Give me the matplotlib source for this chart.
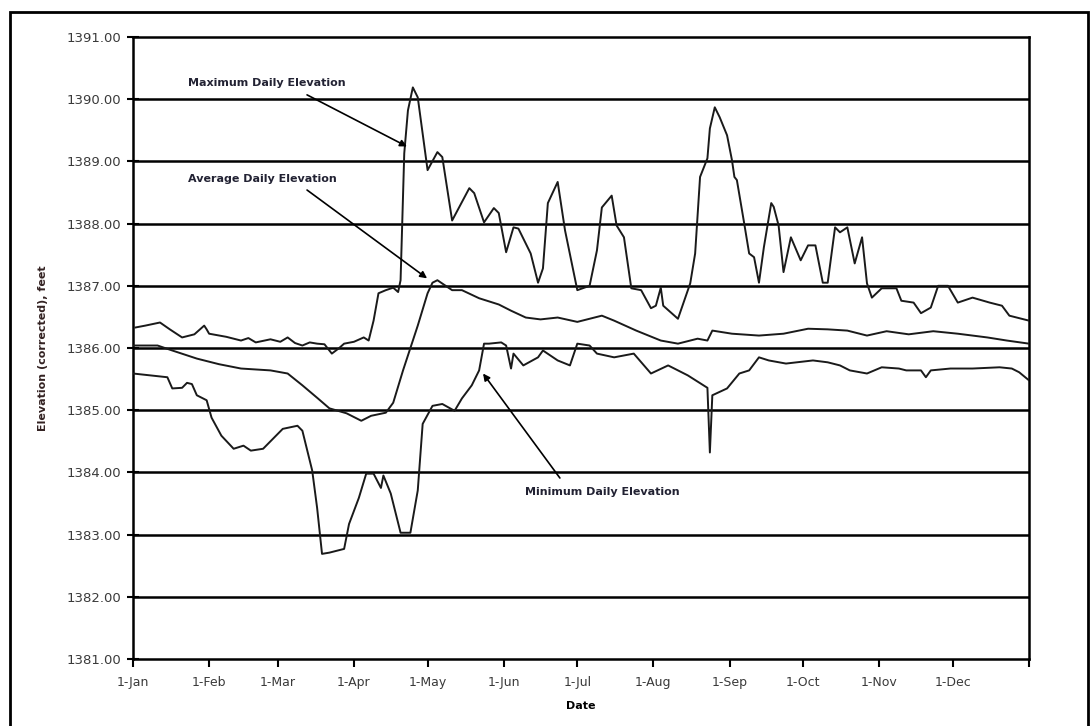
import matplotlib.pyplot as plt
from matplotlib.patches import Rectangle

# day of year (0 = 1-Jan) and elevation, feet
max_day = [1, 5, 11, 15, 20, 25, 29, 30, 31, 38, 44, 47, 50, 56, 60, 63, 66, 69, 72, 75,
           78, 81, 84, 86, 90, 94, 96, 98, 100, 103, 106, 108,
           109, 110.5, 112, 114, 116, 120, 124, 126, 130, 137, 139, 143, 147, 149, 152,
           155, 157, 162, 165, 167, 169, 173, 176, 181, 186, 189, 191, 195, 197, 200,
           203, 207, 211, 213, 215, 216, 222, 227, 229, 231, 234, 235, 237, 239, 242,
           244, 245, 246, 249, 251, 253, 255, 257, 260, 261, 263, 265, 268, 272, 275,
           278, 281, 283, 286, 288, 291, 294, 297, 299, 301, 305, 311, 313, 318, 321,
           325, 328, 332, 336, 342, 349, 354, 357, 362, 365]
max_elev = [1386.33, 1386.36, 1386.41, 1386.30, 1386.17, 1386.22, 1386.36, 1386.30,
            1386.23, 1386.18, 1386.12, 1386.16, 1386.09, 1386.14, 1386.10, 1386.17,
            1386.08, 1386.04, 1386.09, 1386.07, 1386.06, 1385.91, 1386.00, 1386.07,
            1386.10, 1386.17, 1386.12, 1386.44, 1386.88, 1386.93,
            1386.97, 1386.90, 1387.09, 1389.13, 1389.82, 1390.19, 1390.03, 1388.86,
            1389.15, 1389.07, 1388.05, 1388.57, 1388.49, 1388.02, 1388.25, 1388.17,
            1387.54, 1387.94, 1387.92, 1387.52, 1387.05, 1387.28, 1388.33, 1388.67,
            1387.89, 1386.93, 1387.00, 1387.57, 1388.26, 1388.45, 1387.97, 1387.78,
            1386.96, 1386.93, 1386.64, 1386.68, 1386.97, 1386.68, 1386.47, 1387.04,
            1387.52, 1388.75, 1389.05, 1389.53, 1389.87, 1389.71, 1389.42, 1389.02,
            1388.75, 1388.70, 1388.00, 1387.52, 1387.46, 1387.05, 1387.62, 1388.33,
            1388.27, 1387.97, 1387.22, 1387.78, 1387.41, 1387.65, 1387.65, 1387.05,
            1387.05, 1387.94, 1387.86, 1387.94, 1387.36, 1387.78, 1387.04, 1386.81,
            1386.96, 1386.96, 1386.76, 1386.73, 1386.56, 1386.65, 1387.00, 1387.00,
            1386.73, 1386.81, 1386.73, 1386.68, 1386.52, 1386.47, 1386.44]

avg_day = [0, 10, 16, 26, 35, 44, 56, 63, 69, 75, 80, 87, 93, 97, 103, 106, 110, 116, 120,
           122, 124, 130, 134, 141, 149, 154, 160, 166, 173, 181, 191, 196, 205, 215,
           222, 230, 234, 236, 244, 255, 265, 275, 283, 291, 299, 307, 316, 326, 336,
           348, 356, 365]
avg_elev = [1386.04, 1386.04, 1385.96, 1385.83, 1385.74, 1385.67, 1385.64, 1385.59,
            1385.40, 1385.20, 1385.03, 1384.95, 1384.83, 1384.91, 1384.96, 1385.12,
            1385.64, 1386.36, 1386.88, 1387.05, 1387.09, 1386.93, 1386.93, 1386.80,
            1386.70, 1386.60, 1386.49, 1386.46, 1386.49, 1386.42, 1386.52, 1386.44,
            1386.28, 1386.12, 1386.07, 1386.15, 1386.12, 1386.28, 1386.23, 1386.20,
            1386.23, 1386.31, 1386.30, 1386.28, 1386.20, 1386.27, 1386.22, 1386.27,
            1386.23, 1386.17, 1386.12, 1386.07]

min_day = [0, 7, 14, 16, 20, 22, 24, 26, 30, 32, 36, 41, 45, 48, 53, 57, 61, 67, 69,
           71, 73, 75, 77, 80, 86, 88, 92, 95, 98, 101, 102, 105, 109, 113, 116, 118,
           122, 126, 131, 134, 138, 141, 143, 145, 150, 152, 154, 155, 159, 165, 167,
           173, 178, 181, 186, 189, 196, 204, 211, 218, 226, 234, 235, 236, 242, 247,
           251, 255, 259, 266, 277, 283, 288, 292, 299, 305, 312, 315, 321, 323, 325,
           333, 342, 353, 358, 361, 365]
min_elev = [1385.59, 1385.56, 1385.53, 1385.35, 1385.36, 1385.44, 1385.42, 1385.24,
            1385.16, 1384.88, 1384.59, 1384.38, 1384.43, 1384.35, 1384.38, 1384.54,
            1384.70, 1384.75, 1384.67, 1384.35, 1384.03, 1383.43, 1382.69, 1382.71,
            1382.77, 1383.17, 1383.59, 1383.98, 1383.98, 1383.75, 1383.95, 1383.66,
            1383.03, 1383.03, 1383.71, 1384.78, 1385.07, 1385.10, 1384.99, 1385.19,
            1385.40, 1385.64, 1386.07, 1386.07, 1386.09, 1386.04, 1385.67, 1385.91,
            1385.72, 1385.85, 1385.96, 1385.80, 1385.72, 1386.07, 1386.04, 1385.91,
            1385.85, 1385.91, 1385.59, 1385.72, 1385.56, 1385.36, 1384.32, 1385.24,
            1385.35, 1385.59, 1385.64, 1385.85, 1385.80, 1385.75, 1385.80, 1385.77,
            1385.72, 1385.64, 1385.59, 1385.69, 1385.67, 1385.64, 1385.64, 1385.53,
            1385.64, 1385.67, 1385.67, 1385.69, 1385.67, 1385.61, 1385.48]

month_days = [0, 31, 59, 90, 120, 151, 181, 212, 243, 273, 304, 334, 365]
month_labels = ['1-Jan', '1-Feb', '1-Mar', '1-Apr', '1-May', '1-Jun', '1-Jul',
                '1-Aug', '1-Sep', '1-Oct', '1-Nov', '1-Dec', '']

plt.rcParams['font.family'] = ['DejaVu Sans']

fig = plt.figure(figsize=(10.92, 7.26), dpi=100)
ax = fig.add_axes([0.1218, 0.0923, 0.8205, 0.8567])

# outer frame round the whole chart (bottom edge falls off the page)
fig.patches.append(Rectangle((10 / 1092, -0.05), 1078 / 1092, 1 - 12 / 726 + 0.05,
                             transform=fig.transFigure, fill=False,
                             edgecolor='black', linewidth=2))

for v in range(1382, 1391):
    ax.axhline(v, color='black', linewidth=1.8, zorder=1)

line_color = '#1a1a1a'
ax.plot(max_day, max_elev, color=line_color, linewidth=1.4, zorder=3)
ax.plot(avg_day, avg_elev, color=line_color, linewidth=1.4, zorder=3)
ax.plot(min_day, min_elev, color=line_color, linewidth=1.4, zorder=3)

ax.set_xlim(0, 365)
ax.set_ylim(1381, 1391)
ax.set_xticks(month_days)
ax.set_xticklabels(month_labels)
ax.set_yticks(range(1381, 1392))
ax.set_yticklabels(['%.2f' % v for v in range(1381, 1392)])

for s in ax.spines.values():
    s.set_linewidth(1.8)
    s.set_color('black')

ax.tick_params(axis='y', direction='inout', length=9, width=1.5, labelsize=9.5,
               labelcolor='#3a3a3a', pad=4)
ax.tick_params(axis='x', direction='out', length=6, width=1.5, labelsize=9,
               labelcolor='#3a3a3a', pad=6)

ax.set_xlabel('Date', fontsize=8, fontweight='bold', labelpad=9)
ax.set_ylabel('Elevation (corrected), feet', fontsize=8, fontweight='bold',
              color='#332222', labelpad=13)

arrow = dict(arrowstyle='-|>', color='black', lw=1.2, mutation_scale=10,
             shrinkA=0, shrinkB=0)
ax.annotate('', xy=(111.6, 1389.24), xytext=(70.9, 1390.07), arrowprops=arrow)
ax.text(22.4, 1390.26, 'Maximum Daily Elevation', fontsize=8, fontweight='bold',
        color='#222233', va='center', ha='left')
ax.annotate('', xy=(119.8, 1387.12), xytext=(70.9, 1388.54), arrowprops=arrow)
ax.text(22.4, 1388.71, 'Average Daily Elevation', fontsize=8, fontweight='bold',
        color='#222233', va='center', ha='left')
ax.annotate('', xy=(142.6, 1385.59), xytext=(173.9, 1383.91), arrowprops=arrow)
ax.text(159.7, 1383.69, 'Minimum Daily Elevation', fontsize=8, fontweight='bold',
        color='#222233', va='center', ha='left')

fig.savefig('out.png', dpi=100)
